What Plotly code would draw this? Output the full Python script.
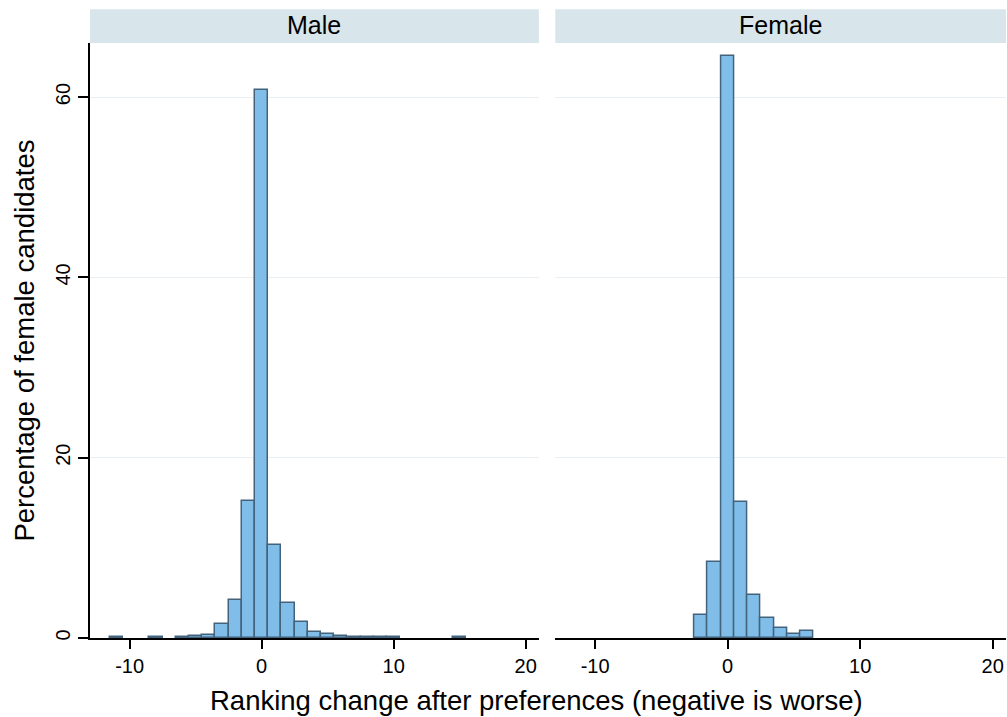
import plotly.graph_objects as go

# Data (percent of female candidates by ranking change)
male_change = [-11, -8, -6, -5, -4, -3, -2, -1, 0, 1, 2, 3, 4, 5, 6, 7, 8, 9, 10, 15]
male_pct = [0.1, 0.1, 0.1, 0.2, 0.3, 1.55, 4.25, 15.2, 60.8, 10.3, 3.9, 1.8, 0.62, 0.4, 0.2, 0.1, 0.1, 0.1, 0.1, 0.1]

female_change = [-2, -1, 0, 1, 2, 3, 4, 5, 6]
female_pct = [2.55, 8.45, 64.6, 15.1, 4.77, 2.17, 1.14, 0.4, 0.77]

panels = ["Male", "Female"]
x_ticks = [-10, 0, 10, 20]
x_ticktext = ["-10", "0", "10", "20"]
y_ticks = [0, 20, 40, 60]

FILL = "#80bde8"
EDGE = "#43637d"
STRIP = "#d8e5eb"
GRID = "#e9eff3"
FONT = "Liberation Sans, Arial, sans-serif"

fig = go.Figure()
fig.add_trace(go.Bar(x=male_change, y=male_pct, width=1, xaxis="x", yaxis="y",
                     marker=dict(color=FILL, line=dict(color=EDGE, width=1.5)),
                     showlegend=False))
fig.add_trace(go.Bar(x=female_change, y=female_pct, width=1, xaxis="x2", yaxis="y2",
                     marker=dict(color=FILL, line=dict(color=EDGE, width=1.5)),
                     showlegend=False))

xcommon = dict(range=[-13, 21], tickvals=x_ticks, ticktext=x_ticktext, ticks="outside",
               ticklen=9, tickwidth=1.5, tickcolor="black", showline=True, linecolor="black",
               linewidth=1.5, showgrid=False, zeroline=False,
               tickfont=dict(size=20, color="black", family=FONT))
ycommon = dict(range=[0, 66], tickvals=y_ticks, showgrid=True, gridcolor=GRID, gridwidth=1.3,
               zeroline=False)

fig.update_layout(
    width=1007, height=717,
    margin=dict(l=90, r=1, t=43, b=79),
    paper_bgcolor="white", plot_bgcolor="white",
    font=dict(family=FONT, color="black"),
    bargap=0,
    xaxis=dict(domain=[0, 0.49], anchor="y", **xcommon),
    xaxis2=dict(domain=[0.508, 1.0], anchor="y2", **xcommon),
    yaxis=dict(anchor="x", showline=True, linecolor="black", linewidth=1.5,
               ticks="outside", ticklen=10, tickwidth=1.5, tickcolor="black",
               tickangle=-90, tickfont=dict(size=20, color="black", family=FONT),
               title=dict(text="Percentage of female candidates", font=dict(size=27.5, family=FONT),
                          standoff=10),
               **ycommon),
    yaxis2=dict(anchor="x2", showticklabels=False, showline=False, ticks="", **ycommon),
    annotations=[
        dict(text="Ranking change after preferences (negative is worse)", x=0.487, xref="paper",
             y=-0.105, yref="paper", xanchor="center", yanchor="middle", showarrow=False,
             font=dict(size=27.5, family=FONT, color="black")),
    ],
)

shapes = []
for i, name in enumerate(panels):
    xr = "x domain" if i == 0 else "x2 domain"
    yr = "y domain" if i == 0 else "y2 domain"
    shapes.append(dict(type="rect", xref=xr, yref=yr, x0=0, x1=1, y0=1.0, y1=1.0566,
                       fillcolor=STRIP, line=dict(width=0), layer="below"))
    fig.add_annotation(text=name, xref=xr, yref=yr, x=0.5, y=1.03, showarrow=False,
                       xanchor="center", yanchor="middle",
                       font=dict(size=25, family=FONT, color="black"))
fig.update_layout(shapes=shapes)

fig.write_html("out.html")
